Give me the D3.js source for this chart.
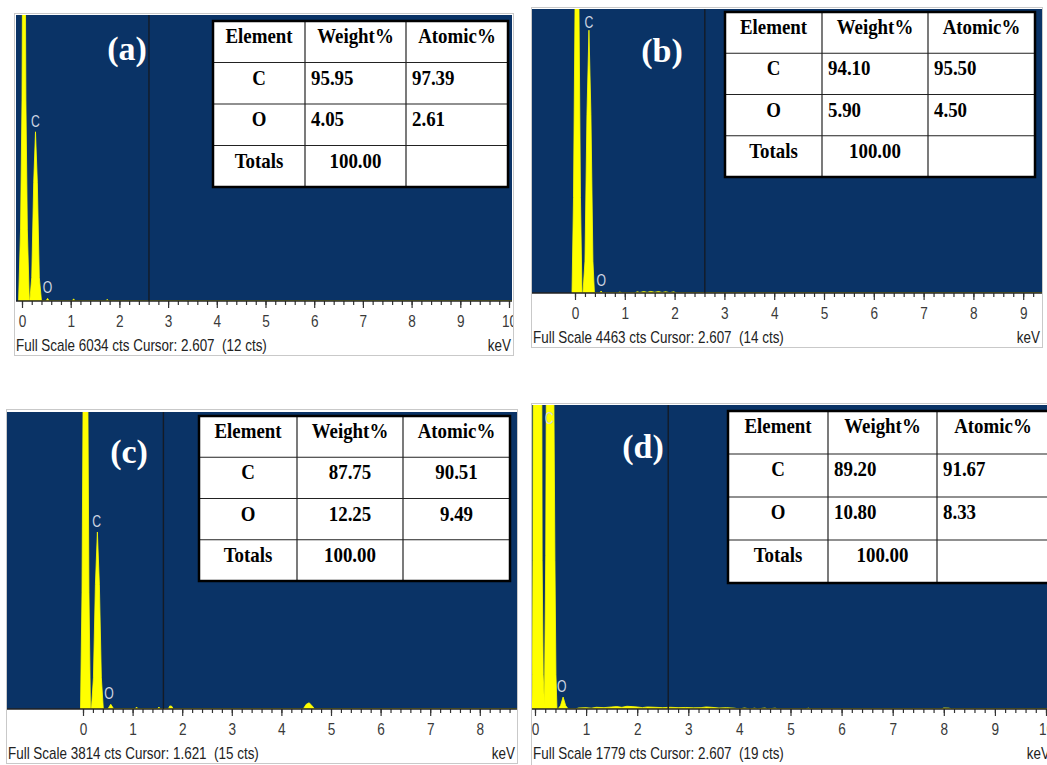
<!DOCTYPE html>
<html>
<head>
<meta charset="utf-8">
<script src="https://cdn.jsdelivr.net/npm/d3@7"></script>
<style>
body { margin: 0; background: #fff; }
svg { display: block; }
</style>
</head>
<body>
<div id="chart-area"></div>
<script>
// ---- data ----
var panelLetters = ["a", "b", "c", "d"];
var fullScaleCts = [6034, 4463, 3814, 1779];
var cursorKeV = [2.607, 2.607, 1.621, 2.607];
var cursorCts = [12, 14, 15, 19];
var keVTicks = [0, 1, 2, 3, 4, 5, 6, 7, 8, 9, 10];

var tableHeader = ["Element", "Weight%", "Atomic%"];
var tableElements = ["C", "O", "Totals"];
var weightA = [95.95, 4.05, 100.00], atomicA = [97.39, 2.61, null];
var weightB = [94.10, 5.90, 100.00], atomicB = [95.50, 4.50, null];
var weightC = [87.75, 12.25, 100.00], atomicC = [90.51, 9.49, null];
var weightD = [89.20, 10.80, 100.00], atomicD = [91.67, 8.33, null];

var elementLines = [{el: "C", keV: 0.277}, {el: "O", keV: 0.525}];

// [keV, counts]
var specA = [[-0.07,0],[-0.03,1500],[0.0,4240],[0.02,9000],[0.06,9000],[0.08,4240],[0.11,1500],[0.15,0],
  [0.16,0],[0.2,500],[0.24,2500],[0.277,3570],[0.315,2500],[0.355,500],[0.40,0],
  [0.49,0],[0.525,55],[0.56,0],
  [1.03,0],[1.06,45],[1.09,0],
  [1.72,0],[1.75,35],[1.78,0],[10.2,0]];

var specB = [[-0.06,0],[-0.03,1500],[0.0,4470],[0.02,8000],[0.06,8000],[0.08,4470],[0.11,1500],[0.14,0],
  [0.16,0],[0.2,500],[0.24,2800],[0.28,4130],[0.32,2800],[0.36,500],[0.39,0],
  [0.49,0],[0.525,30],[0.56,0],
  [0.85,0],[0.9,15],[0.95,0],[1.2,0],[1.25,20],[1.3,8],[1.38,22],[1.45,10],[1.52,25],[1.6,12],
  [1.68,22],[1.75,8],[1.82,20],[1.9,5],[1.98,18],[2.05,0],[9.5,0]];

var specC = [[-0.05,0],[-0.02,1500],[0.0,3814],[0.03,8000],[0.07,8000],[0.1,3814],[0.12,1500],[0.15,0],
  [0.17,0],[0.21,400],[0.25,1600],[0.29,2273],[0.33,1600],[0.37,400],[0.41,0],
  [0.5,0],[0.56,60],[0.62,0],
  [1.05,0],[1.08,25],[1.11,0],[1.5,0],[1.53,25],[1.56,0],[1.72,0],[1.75,40],[1.79,35],[1.82,0],
  [4.44,0],[4.5,60],[4.56,80],[4.62,40],[4.67,0],[9,0]];

var specD = [[-0.06,0],[-0.05,200],[-0.04,870],[-0.025,4000],[0.12,4000],[0.14,870],[0.16,200],[0.185,20],
  [0.21,900],[0.24,3500],[0.32,3500],[0.37,1800],[0.39,870],[0.41,200],[0.43,0],
  [0.45,0],[0.5,20],[0.55,70],[0.6,20],[0.65,0],
  [0.8,0],[0.85,6],[1.0,8],[1.1,5],[1.2,10],[1.35,8],[1.5,12],[1.6,14],[1.7,10],[1.8,16],[1.9,14],
  [2.0,12],[2.1,8],[2.2,12],[2.35,10],[2.5,8],[2.65,10],[2.8,8],[2.95,9],[3.1,7],[3.25,8],[3.35,12],
  [3.45,10],[3.6,6],[3.75,8],[3.9,5],[4.0,0],[4.1,6],[4.2,0],[4.3,5],[4.35,0],[4.5,6],[4.55,0],
  [4.7,5],[4.75,0],[5.3,0],[5.35,5],[5.4,0],[7.95,0],[8.0,6],[8.1,5],[8.15,0],[10.5,0]];

// ---- layout of the four panels ----
var panels = [
  {spec: specA, weight: weightA, atomic: atomicA, box: [15, 14, 498, 341],
   x0: 16, x1: 512, top: 15, base: 301, zeroX: 22, ppk: 48.7,
   table: {x: 213, y: 21, cols: [92, 101, 102], rowH: 41.5}, label: [127, 60], align: "start"},
  {spec: specB, weight: weightB, atomic: atomicB, box: [532, 8, 510, 339],
   x0: 532, x1: 1042, top: 9, base: 293, zeroX: 575, ppk: 49.8,
   table: {x: 725, y: 12, cols: [97, 106, 107], rowH: 41.25}, label: [662, 62], align: "start"},
  {spec: specC, weight: weightC, atomic: atomicC, box: [7, 410, 510, 353],
   x0: 7, x1: 517, top: 412, base: 709, zeroX: 83, ppk: 49.6,
   table: {x: 199, y: 416, cols: [98, 106, 107], rowH: 41.25}, label: [129, 463], align: "middle"},
  {spec: specD, weight: weightD, atomic: atomicD, box: [532, 404, 520, 365],
   x0: 532, x1: 1052, top: 405, base: 709, zeroX: 535, ppk: 51.1,
   table: {x: 728, y: 411, cols: [100, 109, 112], rowH: 43}, label: [643, 458], align: "start"}
];

var sansFont = "'Liberation Sans', Arial, sans-serif";
var serifFont = "'Liberation Serif', 'Times New Roman', serif";
var fmt = d3.format(".2f");

var svg = d3.select("#chart-area").append("svg")
    .attr("width", 1047)
    .attr("height", 765);

// squeeze text horizontally like the source image
function place(sel, x, y, sx) {
    sel.attr("transform", "translate(" + x + "," + y + ") scale(" + sx + ",1)");
}

panels.forEach((p, i) => {
    var g = svg.append("g");

    g.append("clipPath").attr("id", "clip-box-" + i)
      .append("rect")
        .attr("x", p.box[0]).attr("y", p.box[1])
        .attr("width", p.box[2]).attr("height", p.box[3]);
    g.append("clipPath").attr("id", "clip-plot-" + i)
      .append("rect")
        .attr("x", p.x0).attr("y", p.top)
        .attr("width", p.x1 - p.x0).attr("height", p.base - p.top);

    // panel frame
    g.append("rect")
        .attr("x", p.box[0] - 0.5).attr("y", p.box[1] - 0.5)
        .attr("width", p.box[2] + 1).attr("height", p.box[3] + 1)
        .attr("fill", "#fff").attr("stroke", "#c9c9c9");

    var inner = g.append("g").attr("clip-path", "url(#clip-box-" + i + ")");

    // Scales
    var x = d3.scaleLinear()
        .domain([(p.x0 - p.zeroX) / p.ppk, (p.x1 - p.zeroX) / p.ppk])
        .range([p.x0, p.x1]);
    var y = d3.scaleLinear()
        .domain([0, fullScaleCts[i]])
        .range([p.base, p.top]);

    // plot background
    inner.append("rect")
        .attr("x", p.x0).attr("y", p.top)
        .attr("width", p.x1 - p.x0).attr("height", p.base - p.top)
        .attr("fill", "#0a3366");

    // spectrum
    var area = d3.area()
        .x((d) => { return x(d[0]); })
        .y0(y(0))
        .y1((d) => { return y(d[1]); });

    inner.append("g").attr("clip-path", "url(#clip-plot-" + i + ")")
      .append("path")
        .datum(p.spec)
        .attr("fill", "#ffff00")
        .attr("stroke", "#ffff00")
        .attr("stroke-width", 0.8)
        .attr("d", area);

    // cursor line
    inner.append("line")
        .attr("x1", x(cursorKeV[i])).attr("x2", x(cursorKeV[i]))
        .attr("y1", p.top).attr("y2", p.base)
        .attr("stroke", "#141b26").attr("stroke-width", 1.4);

    // element labels above peaks
    elementLines.forEach((e) => {
        var peak = d3.max(p.spec.filter((d) => Math.abs(d[0] - e.keV) < 0.06), (d) => d[1]);
        var ly = Math.max(y(peak) - 11, p.top + 13);
        var t = inner.append("text")
            .attr("text-anchor", "middle")
            .attr("dy", "0.35em")
            .attr("fill", "#cfd6e2")
            .style("font-family", sansFont)
            .style("font-size", "17px")
            .text(e.el);
        place(t, x(e.keV), ly, 0.72);
    });

    // x axis: major and minor ticks
    var xmax = x.domain()[1];
    var minor = d3.range(0, Math.floor(xmax * 5) + 1).map((k) => k / 5);
    var minorAxis = inner.append("g")
        .attr("transform", "translate(0," + p.base + ")")
        .call(d3.axisBottom(x).tickValues(minor).tickSize(4).tickFormat(""));
    var majorAxis = inner.append("g")
        .attr("transform", "translate(0," + p.base + ")")
        .call(d3.axisBottom(x)
            .tickValues(keVTicks.filter((t) => t <= xmax + 0.3))
            .tickSize(7).tickPadding(8)
            .tickFormat(d3.format("d")));
    [minorAxis, majorAxis].forEach((a) => {
        a.select(".domain").remove();
        a.selectAll("line").attr("stroke", "#333").attr("stroke-width", 1.2);
    });
    majorAxis.selectAll("text")
        .attr("fill", "#3a3a3a")
        .style("font-family", sansFont)
        .style("font-size", "16px")
        .attr("transform", "scale(0.85,1)");

    inner.append("line")
        .attr("x1", p.x0).attr("x2", p.x1)
        .attr("y1", p.base).attr("y2", p.base)
        .attr("stroke", "#222").attr("stroke-width", 1.5);

    // footer
    var foot = inner.append("text")
        .attr("fill", "#222")
        .style("font-family", sansFont)
        .style("font-size", "16px")
        .style("white-space", "pre")
        .text("Full Scale " + fullScaleCts[i] + " cts Cursor: " + d3.format(".3f")(cursorKeV[i]) +
              "  (" + cursorCts[i] + " cts)");
    place(foot, p.box[0] + 1, p.base + 50, 0.84);

    var kev = inner.append("text")
        .attr("fill", "#222")
        .attr("text-anchor", "end")
        .style("font-family", sansFont)
        .style("font-size", "16px")
        .text("keV");
    place(kev, p.box[0] + p.box[2] - 2, p.base + 50, 0.84);

    // panel letter
    inner.append("text")
        .attr("x", p.label[0]).attr("y", p.label[1])
        .attr("text-anchor", "middle")
        .attr("fill", "#fff")
        .style("font-family", serifFont)
        .style("font-weight", "bold")
        .style("font-size", "34px")
        .text("(" + panelLetters[i] + ")");

    // composition table
    var tb = p.table;
    var colX = [tb.x, tb.x + tb.cols[0], tb.x + tb.cols[0] + tb.cols[1]];
    var tw = d3.sum(tb.cols), th = tb.rowH * 4;
    var tg = inner.append("g");
    tg.append("rect")
        .attr("x", tb.x).attr("y", tb.y)
        .attr("width", tw).attr("height", th)
        .attr("fill", "#fff");
    [1, 2, 3].forEach((r) => {
        tg.append("line")
            .attr("x1", tb.x).attr("x2", tb.x + tw)
            .attr("y1", tb.y + r * tb.rowH).attr("y2", tb.y + r * tb.rowH)
            .attr("stroke", "#222").attr("stroke-width", 1.2);
    });
    [1, 2].forEach((c) => {
        tg.append("line")
            .attr("x1", colX[c]).attr("x2", colX[c])
            .attr("y1", tb.y).attr("y2", tb.y + th)
            .attr("stroke", "#222").attr("stroke-width", 1.2);
    });
    tg.append("rect")
        .attr("x", tb.x).attr("y", tb.y)
        .attr("width", tw).attr("height", th)
        .attr("fill", "none").attr("stroke", "#000").attr("stroke-width", 2.5);

    var rows = [tableHeader].concat(tableElements.map((el, r) => [
        el,
        fmt(p.weight[r]),
        p.atomic[r] == null ? "" : fmt(p.atomic[r])
    ]));

    rows.forEach((row, r) => {
        row.forEach((cell, c) => {
            var centred = r === 0 || c === 0 || r === 3 || p.align === "middle";
            var tx = centred ? colX[c] + tb.cols[c] / 2 : colX[c] + 6;
            var t = tg.append("text")
                .attr("text-anchor", centred ? "middle" : "start")
                .attr("fill", "#000")
                .style("font-family", serifFont)
                .style("font-weight", "bold")
                .style("font-size", "21px")
                .text(cell);
            place(t, tx, tb.y + r * tb.rowH + 22, 0.9);
        });
    });
});
</script>
</body>
</html>
